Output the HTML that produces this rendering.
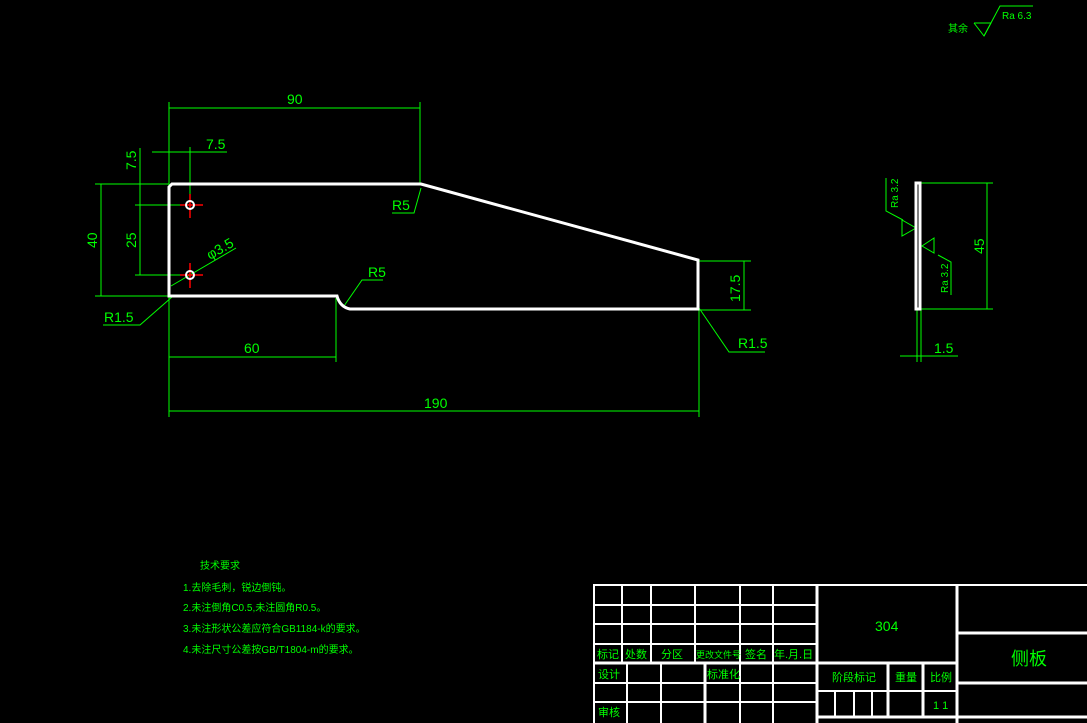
<!DOCTYPE html>
<html><head><meta charset="utf-8"><style>
html,body{margin:0;padding:0;background:#000;width:1087px;height:723px;overflow:hidden}
svg{display:block}
text{font-family:"Liberation Sans","Noto Sans CJK SC",sans-serif;fill:#00ff00}
</style></head><body>
<svg width="1087" height="723" viewBox="0 0 1087 723" xmlns="http://www.w3.org/2000/svg">
<g stroke="#00ff00" stroke-width="1" fill="none">
<line x1="169" y1="102" x2="169" y2="296"/>
<line x1="420" y1="102" x2="420" y2="184"/>
<line x1="169" y1="108" x2="420" y2="108"/>
<line x1="152" y1="152" x2="227" y2="152"/>
<line x1="190" y1="147" x2="190" y2="205"/>
<line x1="140" y1="148" x2="140" y2="275"/>
<line x1="135" y1="205" x2="200" y2="205"/>
<line x1="135" y1="275" x2="200" y2="275"/>
<line x1="95" y1="184" x2="169" y2="184"/>
<line x1="95" y1="296" x2="169" y2="296"/>
<line x1="101" y1="184" x2="101" y2="296"/>
<line x1="171" y1="286" x2="236" y2="248"/>
<polyline points="103,325 140,325 172,297"/>
<polyline points="392,213 414,213 421,188"/>
<polyline points="344,306 362,280 383,280"/>
<line x1="336" y1="298" x2="336" y2="362"/>
<line x1="169" y1="357" x2="336" y2="357"/>
<line x1="169" y1="296" x2="169" y2="417"/>
<line x1="699" y1="310" x2="699" y2="417"/>
<line x1="169" y1="411" x2="699" y2="411"/>
<line x1="699" y1="261" x2="751" y2="261"/>
<line x1="699" y1="310" x2="751" y2="310"/>
<line x1="744" y1="261" x2="744" y2="310"/>
<polyline points="699,308 729,352 765,352"/>
<line x1="921" y1="183" x2="993" y2="183"/>
<line x1="921" y1="309" x2="993" y2="309"/>
<line x1="987" y1="183" x2="987" y2="309"/>
<line x1="917" y1="309" x2="917" y2="362"/>
<line x1="921" y1="309" x2="921" y2="362"/>
<line x1="900" y1="356" x2="958" y2="356"/>
<polyline points="886,178 886,211 903,220"/>
<polygon points="902,220 902,236 916,228"/>
<polyline points="951,295 951,262 938,255"/>
<polygon points="934,238 934,253 922,246"/>
<polyline points="974,23 984,36 991,23"/>
<line x1="974" y1="23" x2="991" y2="23"/>
<polyline points="984,36 1000,6 1033,6"/>
</g>
<g stroke="#fff" stroke-width="3" fill="none">
<path d="M172,184 L421,184 L698,260 L698,309 L350,309 Q340,307 337,296 L169,296 L169,187 Z"/>
<rect x="916" y="183" width="4" height="126"/>
</g>
<g stroke="#ff0000" stroke-width="1.5">
<line x1="180" y1="205" x2="203" y2="205"/><line x1="190" y1="194" x2="190" y2="218"/>
<line x1="180" y1="275" x2="203" y2="275"/><line x1="190" y1="263" x2="190" y2="288"/>
</g>
<circle cx="190" cy="205" r="4" fill="none" stroke="#fff" stroke-width="2"/>
<circle cx="190" cy="275" r="4" fill="none" stroke="#fff" stroke-width="2"/>
<g font-size="14">
<text x="287" y="104">90</text>
<text x="206" y="149">7.5</text>
<text x="392" y="210">R5</text>
<text x="368" y="277">R5</text>
<text x="104" y="322">R1.5</text>
<text x="738" y="348">R1.5</text>
<text x="244" y="353">60</text>
<text x="424" y="408">190</text>
<text x="934" y="353">1.5</text>
<text transform="translate(136,170) rotate(-90)">7.5</text>
<text transform="translate(136,248) rotate(-90)">25</text>
<text transform="translate(97,248) rotate(-90)">40</text>
<text transform="translate(740,302) rotate(-90)">17.5</text>
<text transform="translate(984,254) rotate(-90)">45</text>
<text transform="translate(210,260) rotate(-30)">φ3.5</text>
</g>
<g font-size="10">
<text transform="translate(898,208) rotate(-90)">Ra 3.2</text>
<text transform="translate(948,293) rotate(-90)">Ra 3.2</text>
<text x="1002" y="19">Ra 6.3</text>
<text x="948" y="32">其余</text>
</g>
<g font-size="10">
<text x="200" y="569">技术要求</text>
<text x="183" y="591">1.去除毛刺，锐边倒钝。</text>
<text x="183" y="611">2.未注倒角C0.5,未注圆角R0.5。</text>
<text x="183" y="632">3.未注形状公差应符合GB1184-k的要求。</text>
<text x="183" y="653">4.未注尺寸公差按GB/T1804-m的要求。</text>
</g>
<g stroke="#fff" stroke-width="2" fill="none">
<rect x="594" y="585" width="500" height="140"/>
<line x1="594" y1="605" x2="817" y2="605"/>
<line x1="594" y1="624" x2="817" y2="624"/>
<line x1="594" y1="644" x2="817" y2="644"/>
<line x1="594" y1="663" x2="957" y2="663" stroke-width="3"/>
<line x1="594" y1="683" x2="817" y2="683"/>
<line x1="594" y1="702" x2="817" y2="702"/>
<line x1="622" y1="585" x2="622" y2="663"/>
<line x1="651" y1="585" x2="651" y2="663"/>
<line x1="695" y1="585" x2="695" y2="663"/>
<line x1="740" y1="585" x2="740" y2="663"/>
<line x1="773" y1="585" x2="773" y2="723"/>
<line x1="627" y1="663" x2="627" y2="723"/>
<line x1="661" y1="663" x2="661" y2="723"/>
<line x1="705" y1="663" x2="705" y2="723" stroke-width="3"/>
<line x1="740" y1="663" x2="740" y2="723"/>
<line x1="817" y1="585" x2="817" y2="723" stroke-width="3"/>
<line x1="957" y1="585" x2="957" y2="723" stroke-width="3"/>
<line x1="888" y1="663" x2="888" y2="717" stroke-width="3"/>
<line x1="923" y1="663" x2="923" y2="717" stroke-width="3"/>
<line x1="817" y1="691" x2="957" y2="691"/>
<line x1="817" y1="717" x2="1087" y2="717" stroke-width="3"/>
<line x1="835" y1="691" x2="835" y2="717"/>
<line x1="854" y1="691" x2="854" y2="717"/>
<line x1="872" y1="691" x2="872" y2="717"/>
<line x1="957" y1="633" x2="1087" y2="633" stroke-width="3"/>
<line x1="957" y1="683" x2="1087" y2="683" stroke-width="3"/>
</g>
<g font-size="11">
<text x="597" y="658">标记</text>
<text x="625" y="658">处数</text>
<text x="661" y="658">分区</text>
<text x="696" y="658" font-size="9">更改文件号</text>
<text x="745" y="658">签名</text>
<text x="774" y="658">年.月.日</text>
<text x="598" y="678">设计</text>
<text x="707" y="678">标准化</text>
<text x="598" y="716">审核</text>
<text x="832" y="681">阶段标记</text>
<text x="895" y="681">重量</text>
<text x="930" y="681">比例</text>
<text x="933" y="709">1 1</text>
</g>
<text x="875" y="631" font-size="14">304</text>
<text x="1011" y="665" font-size="18">侧板</text>
</svg>
</body></html>
